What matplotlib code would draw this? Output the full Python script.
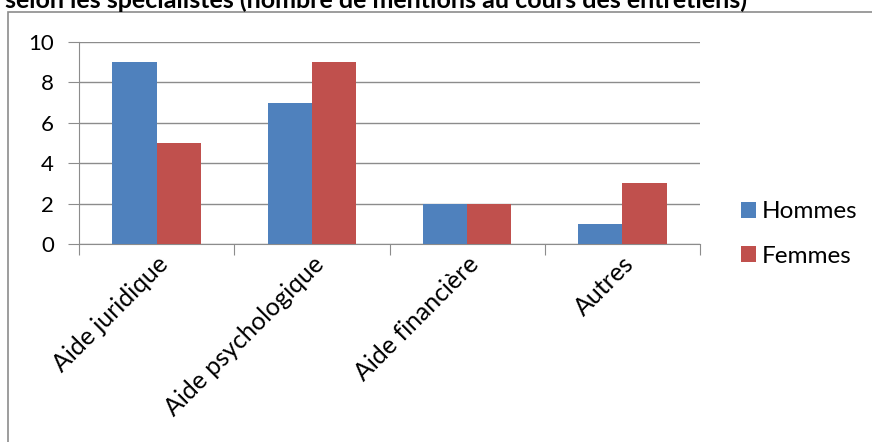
import matplotlib
matplotlib.use("Agg")
import matplotlib.pyplot as plt
import numpy as np
from matplotlib.patches import Rectangle

categories = ["Aide juridique", "Aide psychologique", "Aide financière", "Autres"]
hommes = [9, 7, 2, 1]
femmes = [5, 9, 2, 3]
series_names = ["Hommes", "Femmes"]
yticks = [0, 2, 4, 6, 8, 10]
title = "selon les spécialistes (nombre de mentions au cours des entretiens)"

plt.rcParams["font.family"] = ["Lato", "DejaVu Sans"]

W, H = 872, 442
fig = plt.figure(figsize=(W / 100, H / 100), dpi=100)

# outer chart frame
fig.patches.append(Rectangle((8 / W, -0.1), 2, 1 - 12 / H + 0.1, transform=fig.transFigure,
                             fill=False, edgecolor="#8c8c8c", linewidth=1.2, zorder=0))

# title, partially above the canvas
fig.text(5 / W, 1 - 8 / H, title, ha="left", va="baseline", fontsize=18, fontweight="bold")

ax = fig.add_axes([79 / W, 1 - 244 / H, (700 - 79) / W, (244 - 42) / H])
x = np.arange(len(categories))
bw = 0.285
blue, red = "#4F81BD", "#C0504D"
ax.bar(x - bw / 2, hommes, bw, color=blue, label=series_names[0], zorder=3)
ax.bar(x + bw / 2, femmes, bw, color=red, label=series_names[1], zorder=3)

ax.set_xlim(-0.5, len(categories) - 0.5)
ax.set_ylim(0, 10)
ax.set_yticks(yticks)
ax.set_yticklabels([str(v) for v in yticks], fontsize=16)
ax.yaxis.grid(True, color="#8c8c8c", linewidth=1)
ax.set_axisbelow(True)
for s in ("top", "right"):
    ax.spines[s].set_visible(False)
for s in ("left", "bottom"):
    ax.spines[s].set_color("#8c8c8c")
ax.tick_params(axis="y", length=8, color="#8c8c8c", pad=10)

# category boundaries as ticks, labels at centers
ax.set_xticks(np.arange(len(categories) + 1) - 0.5)
ax.set_xticklabels([])
ax.tick_params(axis="x", length=8, color="#8c8c8c")
ax.set_xticks(x, minor=True)
ax.set_xticklabels(categories, minor=True, rotation=45, ha="right",
                   rotation_mode="anchor", fontsize=18)
ax.tick_params(axis="x", which="minor", length=0, pad=6)

ax.legend(loc="center left", bbox_to_anchor=(741 / W, 1 - 234 / H),
          bbox_transform=fig.transFigure, frameon=False, fontsize=17.5,
          borderpad=0, borderaxespad=0,
          handlelength=0.62, handleheight=0.62, handletextpad=0.25, labelspacing=0.95)

fig.savefig("out.png", dpi=100)
